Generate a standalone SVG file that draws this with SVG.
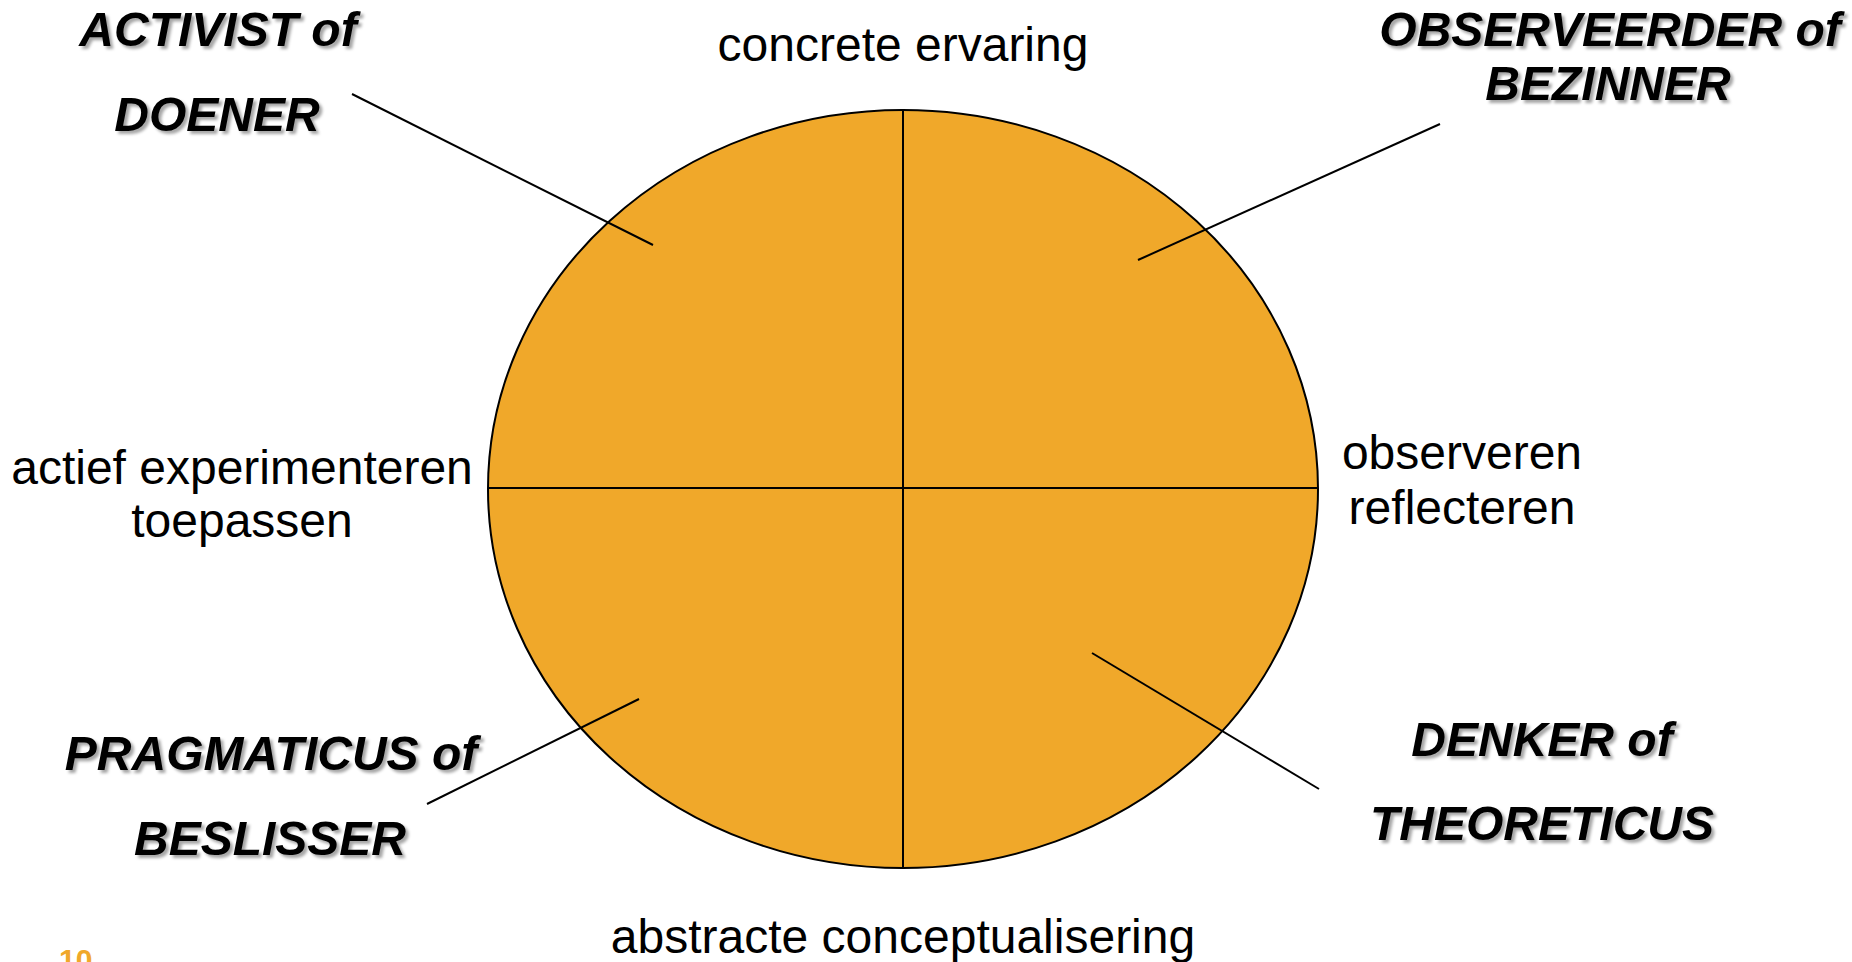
<svg xmlns="http://www.w3.org/2000/svg" width="1852" height="962" viewBox="0 0 1852 962">
<defs>
<filter id="sh" x="-10%" y="-30%" width="120%" height="160%">
<feDropShadow dx="3" dy="3" stdDeviation="1.8" flood-color="#000" flood-opacity="0.35"/>
</filter>
</defs>
<style>
.lbl{font-family:"Liberation Sans",Arial,sans-serif;font-size:48px;fill:#000;text-anchor:middle}
.type{font-family:"Liberation Sans",Arial,sans-serif;font-size:48px;font-weight:bold;font-style:italic;fill:#000;text-anchor:middle;filter:url(#sh)}
.ln{stroke:#000;stroke-width:2;fill:none}
</style>
<rect width="1852" height="962" fill="#fff"/>
<g id="circle">
<ellipse cx="903" cy="489" rx="415" ry="379" fill="#F0A82A" stroke="#000" stroke-width="2"/>
<line class="ln" x1="903" y1="110" x2="903" y2="868"/>
<line class="ln" x1="488" y1="488" x2="1318" y2="488"/>
</g>
<g id="connectors">
<line class="ln" x1="352" y1="94" x2="653" y2="245"/>
<line class="ln" x1="1440" y1="124" x2="1138" y2="260"/>
<line class="ln" x1="427" y1="804" x2="639" y2="699"/>
<line class="ln" x1="1092" y1="653" x2="1319" y2="789"/>
</g>
<g id="top-label"><text class="lbl" x="903" y="61">concrete ervaring</text></g>
<g id="bottom-label"><text class="lbl" x="903" y="953">abstracte conceptualisering</text></g>
<g id="left-label"><text class="lbl" x="242" y="484">actief experimenteren</text><text class="lbl" x="242" y="537">toepassen</text></g>
<g id="right-label"><text class="lbl" x="1462" y="469">observeren</text><text class="lbl" x="1462" y="524">reflecteren</text></g>
<g id="activist"><text class="type" x="218" y="46">ACTIVIST of</text><text class="type" x="217" y="131">DOENER</text></g>
<g id="observeerder"><text class="type" x="1610" y="46">OBSERVEERDER of</text><text class="type" x="1608" y="100">BEZINNER</text></g>
<g id="pragmaticus"><text class="type" x="271" y="770">PRAGMATICUS of</text><text class="type" x="270" y="855">BESLISSER</text></g>
<g id="denker"><text class="type" x="1542" y="756">DENKER of</text><text class="type" x="1542" y="840">THEORETICUS</text></g>
<g id="page-number"><text x="59" y="970" font-family="'Liberation Sans',Arial,sans-serif" font-size="30" font-weight="bold" fill="#F0A82A">10</text></g>
</svg>
